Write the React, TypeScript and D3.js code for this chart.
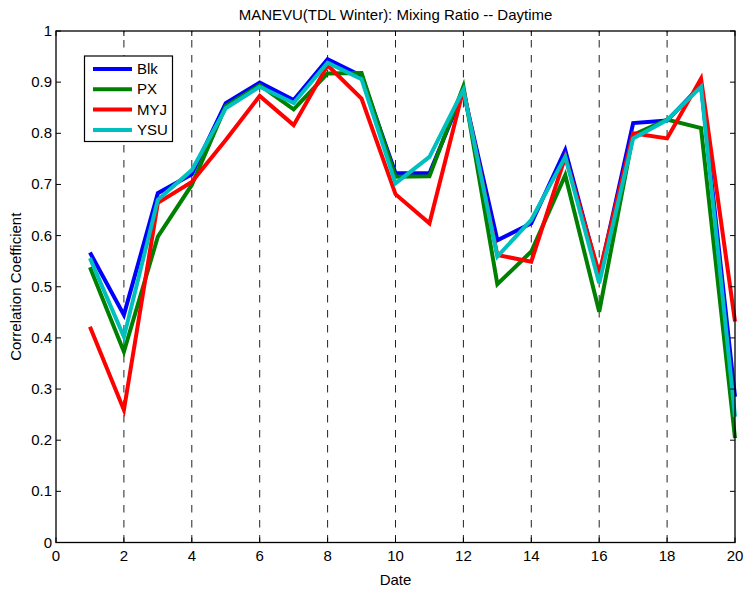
import React from "react";
import * as d3 from "d3";

const dates = [1, 2, 3, 4, 5, 6, 7, 8, 9, 10, 11, 12, 13, 14, 15, 16, 17, 18, 19, 20];
const blk = [0.567, 0.445, 0.683, 0.72, 0.859, 0.899, 0.865, 0.945, 0.912, 0.722, 0.722, 0.882, 0.591, 0.624, 0.767, 0.52, 0.82, 0.825, 0.894, 0.285];
const px = [0.538, 0.373, 0.598, 0.699, 0.853, 0.894, 0.847, 0.917, 0.918, 0.715, 0.716, 0.892, 0.505, 0.569, 0.718, 0.451, 0.797, 0.827, 0.81, 0.204];
const myj = [0.422, 0.259, 0.664, 0.705, 0.787, 0.873, 0.816, 0.933, 0.868, 0.681, 0.624, 0.886, 0.562, 0.549, 0.754, 0.526, 0.8, 0.79, 0.907, 0.432];
const ysu = [0.556, 0.402, 0.67, 0.728, 0.849, 0.891, 0.859, 0.938, 0.906, 0.702, 0.754, 0.885, 0.559, 0.631, 0.754, 0.507, 0.79, 0.826, 0.891, 0.246];
const seriesNames = ["Blk", "PX", "MYJ", "YSU"];
const seriesColors = ["#0000ff", "#008000", "#ff0000", "#00bfbf"];
const xTicks = [0, 2, 4, 6, 8, 10, 12, 14, 16, 18, 20];
const yTicks = [0, 0.1, 0.2, 0.3, 0.4, 0.5, 0.6, 0.7, 0.8, 0.9, 1];
const gridDates = [2, 4, 6, 8, 10, 12, 14, 16, 18];

export default function App() {
  const W = 744, H = 590;
  const L = 56, R = 735, T = 31, B = 542.5;
  const x = d3.scaleLinear().domain([0, 20]).range([L, R]);
  const y = d3.scaleLinear().domain([0, 1]).range([B, T]);
  const all = [blk, px, myj, ysu];
  const line = d3.line<number>().x((_, i) => x(dates[i])).y((d) => y(d));
  const font = "Liberation Sans, Arial, Helvetica, sans-serif";
  const tl = 5;
  const fs = 15;
  return (
    <svg width={W} height={H} style={{ position: "absolute", left: 0, top: 0, background: "#fff" }} fontFamily={font}>
      <rect x={0} y={0} width={W} height={H} fill="#fff" />
      {gridDates.map((d) => (
        <line key={d} x1={x(d)} x2={x(d)} y1={B} y2={T} stroke="#222" strokeWidth={1} strokeDasharray="7.5,7.5" />
      ))}
      {all.map((s, i) => (
        <path key={i} d={line(s) || ""} fill="none" stroke={seriesColors[i]} strokeWidth={4} strokeLinejoin="miter" />
      ))}
      <rect x={L} y={T} width={R - L} height={B - T} fill="none" stroke="#000" strokeWidth={1.3} />
      {xTicks.map((t) => (
        <g key={t}>
          <line x1={x(t)} x2={x(t)} y1={B} y2={B - tl} stroke="#000" />
          <line x1={x(t)} x2={x(t)} y1={T} y2={T + tl} stroke="#000" />
          <text x={x(t)} y={B + 18} fontSize={fs} textAnchor="middle" fill="#000">{t}</text>
        </g>
      ))}
      {yTicks.map((t) => (
        <g key={t}>
          <line x1={L} x2={L + tl} y1={y(t)} y2={y(t)} stroke="#000" />
          <line x1={R} x2={R - tl} y1={y(t)} y2={y(t)} stroke="#000" />
          <text x={L - 4} y={y(t) + 5} fontSize={fs} textAnchor="end" fill="#000">{String(t)}</text>
        </g>
      ))}
      <text x={(L + R) / 2} y={20} fontSize={fs} textAnchor="middle" fill="#000">MANEVU(TDL Winter): Mixing Ratio -- Daytime</text>
      <text x={(L + R) / 2} y={585} fontSize={fs} textAnchor="middle" fill="#000">Date</text>
      <text transform={`translate(21,${(T + B) / 2}) rotate(-90)`} fontSize={fs} textAnchor="middle" fill="#000">Correlation Coefficient</text>
      <rect x={84.5} y={56} width={88} height={85.5} fill="#fff" stroke="#000" strokeWidth={1.2} />
      {seriesNames.map((n, i) => (
        <g key={n}>
          <line x1={93} x2={132} y1={69 + i * 20.3} y2={69 + i * 20.3} stroke={seriesColors[i]} strokeWidth={4} />
          <text x={137} y={69 + i * 20.3 + 5} fontSize={fs} fill="#000">{n}</text>
        </g>
      ))}
    </svg>
  );
}
